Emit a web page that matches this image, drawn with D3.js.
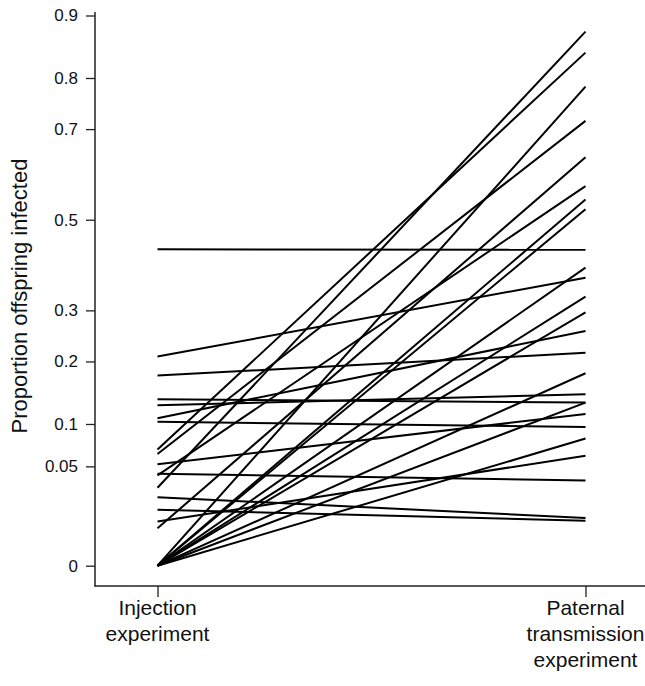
<!DOCTYPE html>
<html>
<head>
<meta charset="utf-8">
<script src="https://cdn.jsdelivr.net/npm/d3@7"></script>
<style>
  body { margin: 0; background: #fff; }
  svg { display: block; font-family: Arial, "Liberation Sans", sans-serif; }
</style>
</head>
<body>
<svg id="chart" width="645" height="686"></svg>
<script>
// proportions, one pair per male/line
const groups = ["Injection experiment", "Paternal transmission experiment"];
const injection = [0.433, 0.209, 0.175, 0.136, 0.127, 0.108, 0.103, 0.068, 0.063, 0.052, 0.043,
  0.0415, 0.031, 0.024, 0.016, 0.010, 0.0072, 0, 0, 0, 0, 0, 0, 0, 0, 0];
const paternal = [0.432, 0.370, 0.216, 0.131, 0.144, 0.258, 0.096, 0.844, 0.717, 0.114, 0.037,
  0.576, 0.877, 0.0117, 0.0104, 0.061, 0.64, 0.784, 0.546, 0.179, 0.524, 0.392, 0.329, 0.296, 0.081, 0.131];
const yTicks = [0, 0.05, 0.1, 0.2, 0.3, 0.5, 0.7, 0.8, 0.9];

const svg = d3.select("#chart");

// arcsine square-root transform
const asq = p => Math.asin(Math.sqrt(p));

const y = d3.scaleLinear()
  .domain([0, asq(0.9)])
  .range([565.7, 15.5]);

const x = d3.scalePoint()
  .domain(groups)
  .range([157.5, 585.5]);

// frame
svg.append("line")
  .attr("x1", 95).attr("x2", 95).attr("y1", 12).attr("y2", 586.5)
  .attr("stroke", "#222").attr("stroke-width", 1.5);
svg.append("line")
  .attr("x1", 94.5).attr("x2", 645).attr("y1", 586).attr("y2", 586)
  .attr("stroke", "#222").attr("stroke-width", 1.5);

const yAxis = svg.append("g")
  .attr("transform", "translate(95,0)")
  .call(d3.axisLeft(y)
    .tickValues(yTicks.map(asq))
    .tickFormat((d, i) => yTicks[i])
    .tickSize(9)
    .tickPadding(8));
yAxis.select(".domain").remove();
yAxis.selectAll("line").attr("stroke", "#222").attr("stroke-width", 1.3);
yAxis.selectAll("text").attr("font-size", 17).attr("fill", "#111")
  .attr("font-family", "Arial, 'Liberation Sans', sans-serif");

const xAxis = svg.append("g")
  .attr("transform", "translate(0,586)")
  .call(d3.axisBottom(x).tickSize(11).tickFormat(""));
xAxis.select(".domain").remove();
xAxis.selectAll("line").attr("stroke", "#222").attr("stroke-width", 1.3);

// category labels, wrapped
const labelLines = {
  "Injection experiment": ["Injection", "experiment"],
  "Paternal transmission experiment": ["Paternal", "transmission", "experiment"]
};
groups.forEach(g => {
  const t = svg.append("text")
    .attr("text-anchor", "middle")
    .attr("font-size", 21)
    .attr("fill", "#111");
  labelLines[g].forEach((w, i) => {
    t.append("tspan").attr("x", x(g)).attr("y", 615 + i * 26).text(w);
  });
});

svg.append("text")
  .attr("transform", "translate(27,296) rotate(-90)")
  .attr("text-anchor", "middle")
  .attr("font-size", 22)
  .attr("fill", "#111")
  .text("Proportion offspring infected");

// one segment per pair
const pairs = injection.map((v, i) => [v, paternal[i]]);
svg.append("g")
  .selectAll("line")
  .data(pairs)
  .join("line")
  .attr("x1", x(groups[0]))
  .attr("x2", x(groups[1]))
  .attr("y1", d => y(asq(d[0])))
  .attr("y2", d => y(asq(d[1])))
  .attr("stroke", "#000")
  .attr("stroke-width", 2);
</script>
</body>
</html>
